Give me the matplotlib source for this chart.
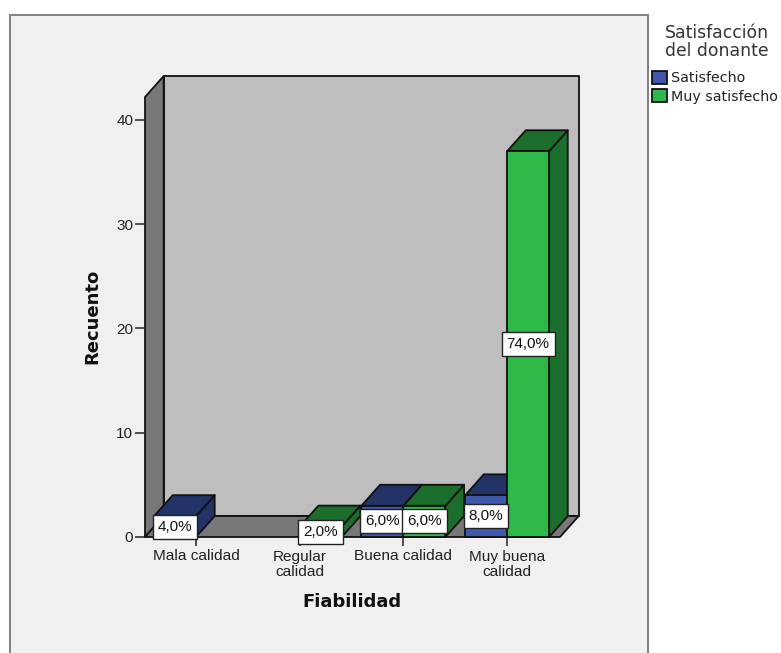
import matplotlib
matplotlib.use("Agg")
import matplotlib.pyplot as plt
from matplotlib.patches import Polygon, Rectangle, Patch

plt.rcParams['font.family'] = ['Liberation Sans', 'DejaVu Sans']

categories = ["Mala calidad", "Regular\ncalidad", "Buena calidad", "Muy buena\ncalidad"]
satisfecho = [2, 0, 3, 4]
muy_satisfecho = [0, 1, 3, 37]
total = 50
y_ticks = [0, 10, 20, 30, 40]

W, H = 781, 653
BLUE, BLUE_DARK = "#3E58AC", "#233367"
GREEN, GREEN_DARK = "#2EB848", "#1B6E2B"
EDGE = "#111111"
LW = 1.3

fig = plt.figure(figsize=(W / 100, H / 100), dpi=100, facecolor="white")

# Chart background panel, running off the bottom of the figure
fig.add_artist(Rectangle((9.5 / W, -0.05), (648 - 9.5) / W, 1.05 - 14.5 / H,
                         transform=fig.transFigure, facecolor="#F0F0F0",
                         edgecolor="#808080", linewidth=1.4, zorder=-1))

ax = fig.add_axes([145 / W, (H - 537) / H, 415 / W, 440 / H])
ax.patch.set_visible(False)
ax.set_xlim(-0.492, 3.51)
ax.set_ylim(0, 42.2)
for s in ax.spines.values():
    s.set_visible(False)

# Depth of the 3D projection, in data units
DX, DY = 0.18, 2.01
BAR_W = 0.405
x0, x1 = ax.get_xlim()
y1 = ax.get_ylim()[1]


def poly(points, color, z):
    ax.add_patch(Polygon(points, closed=True, facecolor=color, edgecolor=EDGE,
                         linewidth=LW, joinstyle="round", zorder=z, clip_on=False))


# Walls and floor
poly([(x0 + DX, DY), (x1 + DX, DY), (x1 + DX, y1 + DY), (x0 + DX, y1 + DY)], "#BEBEBE", 1)
poly([(x0, 0), (x0 + DX, DY), (x0 + DX, y1 + DY), (x0, y1)], "#787878", 1.1)
poly([(x0, 0), (x1, 0), (x1 + DX, DY), (x0 + DX, DY)], "#787878", 1.2)


def bar3d(left, value, front, dark, z):
    right = left + BAR_W
    poly([(right, 0), (right + DX, DY), (right + DX, value + DY), (right, value)], dark, z)
    poly([(left, value), (right, value), (right + DX, value + DY), (left + DX, value + DY)], dark, z)
    poly([(left, 0), (right, 0), (right, value), (left, value)], front, z)


def pct(value):
    return f"{value / total * 100:.1f}%".replace(".", ",")


labels = []
for i, (a, b) in enumerate(zip(satisfecho, muy_satisfecho)):
    if a:
        bar3d(i - BAR_W, a, BLUE, BLUE_DARK, 2 + i * 0.1)
        labels.append((i - BAR_W / 2, a))
    if b:
        bar3d(i, b, GREEN, GREEN_DARK, 2.05 + i * 0.1)
        labels.append((i + BAR_W / 2, b))

for x, v in labels:
    ax.text(x, v / 2, pct(v), ha="center", va="center", fontsize=11, color="#111111", zorder=5,
            bbox=dict(boxstyle="square,pad=0.33", facecolor="white", edgecolor="#222222", linewidth=1.0))

ax.set_xticks(range(len(categories)))
ax.set_xticklabels(categories, fontsize=11.1, color="#222222", linespacing=1.1)
ax.set_yticks(y_ticks)
ax.set_yticklabels([str(t) for t in y_ticks], fontsize=11, color="#222222")
ax.tick_params(axis="x", length=6.5, width=1.1, color="#222222", pad=2.5)
ax.tick_params(axis="y", length=7.5, width=1.1, color="#222222", pad=1)

fig.text(92 / W, 1 - 316 / H, "Recuento", rotation=90, ha="center", va="center",
         fontsize=13, fontweight="bold", color="#111111", family="DejaVu Sans")
fig.text(352 / W, 1 - 602 / H, "Fiabilidad", ha="center", va="center",
         fontsize=13, fontweight="bold", color="#111111", family="DejaVu Sans")

leg = fig.legend(handles=[Patch(facecolor=BLUE, edgecolor=EDGE, linewidth=LW, label="Satisfecho"),
                          Patch(facecolor=GREEN, edgecolor=EDGE, linewidth=LW, label="Muy satisfecho")],
                 loc="upper left", bbox_to_anchor=(652 / W, 1 - 71 / H), frameon=False,
                 prop=dict(family="DejaVu Sans", size=10.3), handlelength=1.02, handleheight=1.0,
                 handletextpad=0.33, labelspacing=0.28, borderpad=0, borderaxespad=0, labelcolor="#222222")
fig.text(717 / W, 1 - 42.5 / H, "Satisfacción\ndel donante", ha="center", va="center", ma="center",
         fontsize=12.4, color="#333333", linespacing=1.0, family="DejaVu Sans")

fig.savefig("out.png", dpi=100, facecolor="white")
